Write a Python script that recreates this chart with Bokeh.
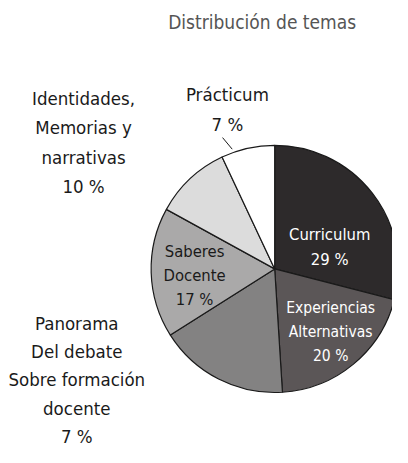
import math
from bokeh.plotting import figure
from bokeh.models import ColumnDataSource, Range1d
from bokeh.core.properties import value
from bokeh.embed import file_html
from bokeh.resources import INLINE

# ---- data ----
categories = ["Curriculum", "Experiencias Alternativas",
              "Panorama Del debate Sobre formación docente",
              "Saberes Docente", "Identidades, Memorias y narrativas", "Prácticum"]
values = [29, 20, 17, 17, 10, 7]
label_texts = ["Curriculum\n29 %", "Experiencias\nAlternativas\n20 %",
               "Panorama\nDel debate\nSobre formación\ndocente\n7 %",
               "Saberes\nDocente\n17 %", "Identidades,\nMemorias y\nnarrativas\n10 %",
               "Prácticum\n7 %"]
title_text = "Distribución de temas"

# ---- layout / style ----
W, H = 392, 447
S = H / 463.0
colors = ["#2d2a2b", "#5b5657", "#838282", "#aaa9a9", "#dcdcdc", "#ffffff"]
FONT = "DejaVu Sans Condensed"

def X(x):
    return x * S

def Y(y):
    return H - y * S

cx, cy, r = X(284), Y(278), 128 * S

total = sum(values)
starts, ends = [], []
acc = 0.0
for v in values:
    a0 = math.pi / 2 - 2 * math.pi * acc / total
    acc += v
    a1 = math.pi / 2 - 2 * math.pi * acc / total
    starts.append(a0)
    ends.append(a1)

p = figure(width=W, height=H, output_backend="svg", toolbar_location=None,
           x_range=Range1d(0, W), y_range=Range1d(0, H), min_border=0)
p.axis.visible = False
p.grid.visible = False
p.outline_line_color = None

src = ColumnDataSource(dict(cat=categories, val=values, start=starts, end=ends, color=colors))
p.wedge(x=cx, y=cy, radius=r, start_angle="start", end_angle="end", direction="clock",
        fill_color="color", line_color="#1a1a1a", line_width=1.2, source=src)

# label line positions (reference pixel coords): x centre, y of each line
lab_x = [341, 342, 79, 201, 86, 235]
lab_ys = [[242, 268], [318, 343, 368], [335, 364, 393, 423, 452],
          [260, 285, 310], [102, 132, 163, 193], [97, 128]]
lab_col = ["#ffffff", "#ffffff", "#1a1a1a", "#1a1a1a", "#1a1a1a", "#1a1a1a"]
lab_size = [16.5, 15.5, 18.5, 16.5, 18.5, 18.5]

for t, x, ys, c, s in zip(label_texts, lab_x, lab_ys, lab_col, lab_size):
    lines = t.split("\n")
    p.text(x=[X(x)] * len(lines), y=[Y(y) for y in ys], text=lines,
           text_align="center", text_baseline="middle",
           text_font=value(FONT), text_font_size=f"{s}px", text_color=c)

# leader line for Prácticum
p.line(x=[X(230), X(240)], y=[Y(142), Y(154)], line_color="#1a1a1a", line_width=1)

# title
p.text(x=[X(271)], y=[Y(22)], text=[title_text], text_align="center", text_baseline="middle",
       text_font=value(FONT), text_font_size="19px", text_color="#555555")

open("out.html", "w").write(file_html(p, INLINE))
